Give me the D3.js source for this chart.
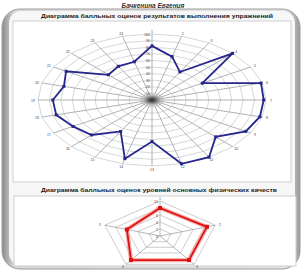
<!DOCTYPE html>
<html>
<head>
<meta charset="utf-8">
<script src="https://cdn.jsdelivr.net/npm/d3@7"></script>
<style>
  body { margin: 0; background: #fff; }
  text { font-family: "Liberation Sans", Arial, sans-serif; }
</style>
</head>
<body>
<div class="chart"></div>
<script>
var svgWidth = 303;
var svgHeight = 272;

// top chart: exercise results (24 exercises, score 0-100)
var exerciseLabels = ["1","2","3","4","5","6","7","8","9","10","11","12",
  "13","14","15","16","17","18","19","20","21","22","23","24"];
var exerciseScores = [82, 68, 49, 100, 51, 99, 98, 98, 95, 79, 100, 100,
  63, 92, 55, 75, 80, 87, 87, 80, 87, 54, 59, 60];
var exerciseTicks = [0, 10, 20, 30, 40, 50, 60, 70, 80, 90, 100];

// bottom chart: physical qualities (5 axes, score 0-10)
var qualityLabels = ["1", "2", "3", "4", "5"];
var qualityScores = [8, 8.5, 8.5, 8.5, 6];
var qualityTicks = [0, 2, 4, 6, 8, 10];

var svg = d3.select(".chart")
  .append("svg")
  .attr("width", svgWidth)
  .attr("height", svgHeight);

// frame of the slide
var defs = svg.append("defs");
var grad = defs.append("linearGradient").attr("id", "side")
  .attr("x1", 0).attr("x2", 1).attr("y1", 0).attr("y2", 0);
grad.append("stop").attr("offset", "0%").attr("stop-color", "#8a8a8a");
grad.append("stop").attr("offset", "4%").attr("stop-color", "#d8d8d8");
grad.append("stop").attr("offset", "95%").attr("stop-color", "#e4e4e4");
grad.append("stop").attr("offset", "100%").attr("stop-color", "#9a9a9a");

var blob = defs.append("radialGradient").attr("id", "blob");
blob.append("stop").attr("offset", "0%").attr("stop-color", "#222");
blob.append("stop").attr("offset", "35%").attr("stop-color", "#777");
blob.append("stop").attr("offset", "100%").attr("stop-color", "#ddd").attr("stop-opacity", 0);

svg.append("rect")
  .attr("x", 2).attr("y", 9).attr("width", 298).attr("height", 260)
  .attr("rx", 18)
  .attr("fill", "url(#side)")
  .attr("stroke", "#9d9d9d");

svg.append("rect")
  .attr("x", 9).attr("y", 11).attr("width", 286).attr("height", 254)
  .attr("rx", 12)
  .attr("fill", "#f7f7f7");

// panels
svg.append("rect")
  .attr("x", 13).attr("y", 21).attr("width", 278).attr("height", 161)
  .attr("fill", "#fff").attr("stroke", "#cfcfcf");

svg.append("rect")
  .attr("x", 14).attr("y", 196).attr("width", 282).attr("height", 70)
  .attr("fill", "#fff").attr("stroke", "#cfcfcf");

// titles
svg.append("text")
  .attr("x", 153).attr("y", 8)
  .attr("text-anchor", "middle")
  .attr("font-size", "6.5px").attr("font-weight", "bold").attr("font-style", "italic")
  .attr("fill", "#333")
  .text("Бачкенина Евгения");

svg.append("text")
  .attr("x", 157).attr("y", 18)
  .attr("text-anchor", "middle")
  .attr("font-size", "5px").attr("font-weight", "bold")
  .attr("textLength", 232).attr("lengthAdjust", "spacingAndGlyphs")
  .attr("fill", "#222")
  .text("Диаграмма балльных оценок результатов выполнения упражнений");

svg.append("text")
  .attr("x", 159).attr("y", 192)
  .attr("text-anchor", "middle")
  .attr("font-size", "5px").attr("font-weight", "bold")
  .attr("textLength", 236).attr("lengthAdjust", "spacingAndGlyphs")
  .attr("fill", "#222")
  .text("Диаграмма балльных оценок уровней основных физических качеств");

// draws a stretched radar chart
function radar(opt) {
  var g = svg.append("g");
  var n = opt.labels.length;

  var angle = d3.scaleLinear()
    .domain([0, n])
    .range([0, 2 * Math.PI]);
  var r = d3.scaleLinear()
    .domain([0, opt.max])
    .range([0, 1]);

  function px(i, v) { return opt.cx + opt.rx * r(v) * Math.sin(angle(i)); }
  function py(i, v) { return opt.cy - opt.ry * r(v) * Math.cos(angle(i)); }

  // rings
  opt.ticks.slice(1).forEach(function(t) {
    var pts = d3.range(n).map(function(i) { return [px(i, t), py(i, t)]; });
    g.append("polygon")
      .attr("points", pts.map(function(p) { return p.join(","); }).join(" "))
      .attr("fill", "none")
      .attr("stroke", opt.gridColor)
      .attr("stroke-width", opt.gridWidth);
  });

  // spokes
  g.selectAll(".spoke")
    .data(opt.labels)
    .enter()
    .append("line")
    .attr("x1", opt.cx).attr("y1", opt.cy)
    .attr("x2", function(d, i) { return px(i, opt.max); })
    .attr("y2", function(d, i) { return py(i, opt.max); })
    .attr("stroke", opt.spokeColor)
    .attr("stroke-width", opt.gridWidth);

  // dense centre where the spokes meet
  if (opt.hub) {
    g.append("ellipse")
      .attr("cx", opt.cx).attr("cy", opt.cy)
      .attr("rx", opt.rx * r(opt.max * 0.12)).attr("ry", opt.ry * r(opt.max * 0.12))
      .attr("fill", "url(#blob)");
  }

  // tick labels on the first axis
  g.selectAll(".tick")
    .data(opt.ticks)
    .enter()
    .append("text")
    .attr("x", opt.cx - 2)
    .attr("y", function(d) { return py(0, d) + 1.5; })
    .attr("text-anchor", "end")
    .attr("font-size", opt.fontSize)
    .attr("fill", "#444")
    .text(function(d) { return d; });

  // category labels
  g.selectAll(".cat")
    .data(opt.labels)
    .enter()
    .append("text")
    .attr("x", function(d, i) { return opt.cx + (opt.rx + opt.pad) * Math.sin(angle(i)); })
    .attr("y", function(d, i) { return opt.cy - (opt.ry + opt.pad * 0.6) * Math.cos(angle(i)) + 1.5; })
    .attr("text-anchor", "middle")
    .attr("font-size", opt.fontSize)
    .attr("fill", "#444")
    .text(function(d) { return d; });

  // series
  var line = d3.line()
    .x(function(d, i) { return px(i, d); })
    .y(function(d, i) { return py(i, d); })
    .curve(d3.curveLinearClosed);

  if (opt.halo) {
    g.append("path")
      .attr("d", line(opt.values))
      .attr("fill", "none")
      .attr("stroke", opt.halo)
      .attr("stroke-width", opt.lineWidth + 2.5);
  }

  g.append("path")
    .attr("d", line(opt.values))
    .attr("fill", "none")
    .attr("stroke", opt.color)
    .attr("stroke-width", opt.lineWidth);

  g.selectAll(".pt")
    .data(opt.values)
    .enter()
    .append("rect")
    .attr("x", function(d, i) { return px(i, d) - opt.marker / 2; })
    .attr("y", function(d, i) { return py(i, d) - opt.marker / 2; })
    .attr("width", opt.marker)
    .attr("height", opt.marker)
    .attr("fill", opt.color);
}

radar({
  labels: exerciseLabels, values: exerciseScores, ticks: exerciseTicks, max: 100,
  cx: 152, cy: 100, rx: 114, ry: 66, pad: 5, hub: true,
  gridColor: "#cdcdcd", spokeColor: "#a0a0a0", gridWidth: 0.8,
  color: "#26268c", lineWidth: 1.8, marker: 3, fontSize: "3.5px"
});

radar({
  labels: qualityLabels, values: qualityScores, ticks: qualityTicks, max: 10,
  cx: 160, cy: 236, rx: 58, ry: 35, pad: 5,
  gridColor: "#b8b8b8", spokeColor: "#999", gridWidth: 0.7,
  color: "#e01010", halo: "#f5b0b0", lineWidth: 1.8, marker: 4, fontSize: "3.5px"
});
</script>
</body>
</html>
